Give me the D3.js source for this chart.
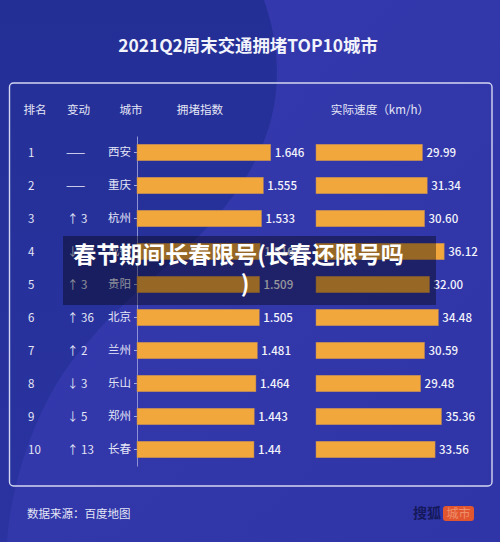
<!DOCTYPE html>
<html><head><meta charset="utf-8">
<script src="https://cdn.jsdelivr.net/npm/d3@7"></script>
<style>html,body{margin:0;padding:0;background:#2a31a0}svg{display:block}
text{font-family:"Noto Sans CJK SC","Noto Sans",sans-serif}</style></head>
<body><svg id="c" width="500" height="542"></svg>
<script>
const ranks=["1","2","3","4","5","6","7","8","9","10"];
const changes=["——","——","↑ 3","↓","↑ 3","↑ 36","↑ 2","↓ 3","↓ 5","↑ 13"];
const cities=["西安","重庆","杭州","成都","贵阳","北京","兰州","乐山","郑州","长春"];
const congestion=[1.646,1.555,1.533,1.516,1.509,1.505,1.481,1.464,1.443,1.44];
const congestionLabels=["1.646","1.555","1.533","1.516","1.509","1.505","1.481","1.464","1.443","1.44"];
const speeds=[29.99,31.34,30.60,36.12,32.00,34.48,30.59,29.48,35.36,33.56];
const speedLabels=["29.99","31.34","30.60","36.12","32.00","34.48","30.59","29.48","35.36","33.56"];
const headers=["排名","变动","城市","拥堵指数","实际速度（km/h）"];

const svg=d3.select("#c");
const W=500,H=542,txt="#e4e6f6";
const defs=svg.append("defs");
const g=defs.append("linearGradient").attr("id","bg").attr("x1",0).attr("y1",0).attr("x2",1).attr("y2",1);
g.append("stop").attr("offset",0).attr("stop-color","#3539ae");
g.append("stop").attr("offset",1).attr("stop-color","#2f35a6");
const g2=defs.append("linearGradient").attr("id","dk").attr("x1",0).attr("y1",0).attr("x2",0).attr("y2",1);
g2.append("stop").attr("offset",0).attr("stop-color","#242f96");
g2.append("stop").attr("offset",1).attr("stop-color","#2a33a0");
svg.append("rect").attr("width",W).attr("height",H).attr("fill","url(#bg)");
svg.append("path").attr("fill","url(#dk)")
  .attr("d","M0,0L264,0C285,60 285,130 230,200C190,255 130,290 90,340C45,385 12,470 7,542L0,542Z");

svg.append("text").attr("x",248).attr("y",52).attr("text-anchor","middle")
  .attr("font-size",17.4).attr("font-weight",700).attr("fill","#f2f3fb").text("2021Q2周末交通拥堵TOP10城市");
svg.append("rect").attr("x",9.5).attr("y",83).attr("width",482.5).attr("height",403).attr("rx",4)
  .attr("fill","none").attr("stroke","#d3d6f0").attr("stroke-width",1.4);

const headX=[35,78.5,131,200,380];
svg.selectAll(".h").data(headers).join("text").attr("class","h")
  .attr("x",(d,i)=>headX[i]).attr("y",113.5).attr("text-anchor","middle")
  .attr("font-size",11.6).attr("fill",txt).text(d=>d);

const y=d3.scaleBand().domain(cities).range([136,466]).paddingInner(0.5).paddingOuter(0.25);
const x0=137,x1=316;
const xC=d3.scaleLinear().domain([0,1.646]).range([x0,270.7]);
const xS=d3.scaleLinear().domain([0,29.99]).range([x1,422.4]);

const axis=svg.append("g").attr("transform",`translate(${x0},0)`)
  .call(d3.axisLeft(y).tickSize(3).tickSizeOuter(0).tickPadding(3));
axis.select(".domain").attr("stroke","#8d92d4").attr("stroke-width",1);
axis.selectAll(".tick line").attr("stroke","#a9acdf");
axis.selectAll(".tick text").attr("font-size",11.5).attr("fill",txt)
  .attr("font-family",'"Noto Sans CJK SC",sans-serif');

const barFill="#f2a73c",barEdge="#b9875a";
svg.selectAll(".b1").data(cities).join("rect").attr("class","b1")
  .attr("x",x0).attr("y",d=>y(d)).attr("height",y.bandwidth())
  .attr("width",(d,i)=>xC(congestion[i])-x0).attr("fill",barFill).attr("stroke",barEdge).attr("stroke-width",.5);
svg.selectAll(".b2").data(cities).join("rect").attr("class","b2")
  .attr("x",x1).attr("y",d=>y(d)).attr("height",y.bandwidth())
  .attr("width",(d,i)=>xS(speeds[i])-x1).attr("fill",barFill).attr("stroke",barEdge).attr("stroke-width",.5);

const mid=d=>y(d)+y.bandwidth()/2;
const lab=(cls,xf,arr,opt={})=>svg.selectAll("."+cls).data(cities).join("text").attr("class",cls)
  .attr("x",xf).attr("y",d=>mid(d)).attr("dy","0.36em").attr("font-size",opt.fs||11.5)
  .attr("font-weight",opt.w||400).attr("fill",opt.c||txt).attr("text-anchor",opt.a||"start")
  .text((d,i)=>arr[i]);
lab("l1",(d,i)=>xC(congestion[i])+4,congestionLabels,{w:500,c:"#f2f3fb",fs:11.5});
lab("l2",(d,i)=>xS(speeds[i])+4,speedLabels,{w:500,c:"#f2f3fb",fs:11.5});
lab("r",28,ranks,{fs:11.5});
lab("ch",(d,i)=>changes[i]==="——"?66:67,changes,{fs:11.5});

// Overlay banner
svg.append("rect").attr("x",63).attr("y",236).attr("width",373).attr("height",69).attr("fill","#000").attr("fill-opacity",.38);
const ban=svg.append("g").attr("text-anchor","middle").attr("font-size",23).attr("font-weight",700).attr("fill","#fff");
ban.append("text").attr("x",238.5).attr("y",263).text("春节期间长春限号(长春还限号吗");
ban.append("text").attr("x",245).attr("y",292).text(")");

svg.append("text").attr("x",27).attr("y",518).attr("font-size",11.5).attr("fill",txt).text("数据来源：百度地图");
svg.append("text").attr("x",413).attr("y",518).attr("font-size",14).attr("font-weight",700).attr("fill","#15195c").text("搜狐");
svg.append("rect").attr("x",443).attr("y",506).attr("width",31).attr("height",15).attr("rx",3).attr("fill","#e2562f");
svg.append("text").attr("x",458.5).attr("y",518).attr("text-anchor","middle").attr("font-size",12).attr("fill","#f08f6c").text("城市");
</script></body></html>
